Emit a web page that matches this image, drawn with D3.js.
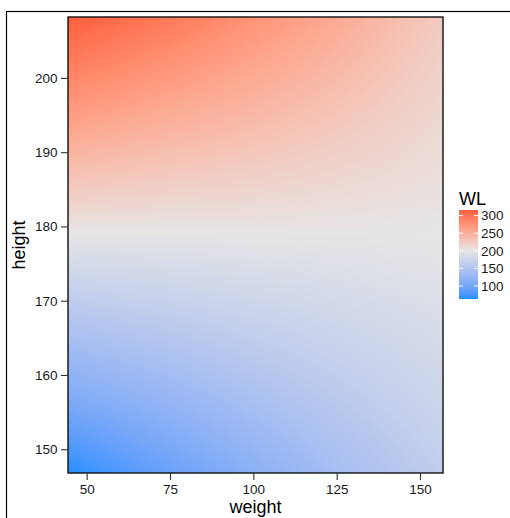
<!DOCTYPE html>
<html><head><meta charset="utf-8">
<script src="https://cdn.jsdelivr.net/npm/d3@7"></script>
<style>body{margin:0;background:#fff}svg{display:block}</style>
</head><body>
<svg id="c" width="510" height="518"></svg>
<script>
// grid of WL values
const weights = [45, 75, 100, 125, 155];
const heights = [147, 157, 167, 177, 187, 197, 208];
// WL[i][j]: i = weight index, j = height index
const WL = [
  [64, 109, 150, 192, 233, 275, 316],
  [94, 127, 160, 193, 226, 259, 296],
  [117, 143, 169, 195, 221, 247, 275],
  [139, 158, 177, 196, 215, 234, 255],
  [163, 175, 187, 198, 207, 216, 226]
];
const xTicks = [50, 75, 100, 125, 150];
const yTicks = [150, 160, 170, 180, 190, 200];
const legendTicks = [100, 150, 200, 250, 300];

const svg = d3.select("#c");
const P = {l: 68, r: 443, t: 17, b: 473};
const x = d3.scaleLinear().domain([44.4, 156.9]).range([P.l, P.r]);
const y = d3.scaleLinear().domain([146.8, 208.2]).range([P.b, P.t]);
const col = d3.scaleLinear().domain([63, 200, 337]).range(["#1E90FF", "#E5E5E5", "#FF3A20"]).interpolate(d3.interpolateLab).clamp(true);

// outer border
svg.append("rect").attr("x", 6.5).attr("y", 11.5).attr("width", 700).attr("height", 700)
  .attr("fill", "none").attr("stroke", "#000").attr("stroke-width", 1.2);

// bilinear value lookup
function val(w, h) {
  let i = d3.bisectRight(weights, w) - 1; i = Math.max(0, Math.min(weights.length - 2, i));
  let j = d3.bisectRight(heights, h) - 1; j = Math.max(0, Math.min(heights.length - 2, j));
  const tx = (w - weights[i]) / (weights[i + 1] - weights[i]);
  const ty = (h - heights[j]) / (heights[j + 1] - heights[j]);
  const a = WL[i][j], b = WL[i + 1][j], c = WL[i][j + 1], d = WL[i + 1][j + 1];
  return (a * (1 - tx) + b * tx) * (1 - ty) + (c * (1 - tx) + d * tx) * ty;
}
const W = P.r - P.l, H = P.b - P.t;
const cv = document.createElement("canvas"); cv.width = W; cv.height = H;
const ctx = cv.getContext("2d");
const img = ctx.createImageData(W, H);
for (let py = 0; py < H; py++) {
  const h = y.invert(P.t + py + 0.5);
  for (let px = 0; px < W; px++) {
    const w = x.invert(P.l + px + 0.5);
    const c = d3.rgb(col(val(w, h)));
    const k = (py * W + px) * 4;
    img.data[k] = c.r; img.data[k + 1] = c.g; img.data[k + 2] = c.b; img.data[k + 3] = 255;
  }
}
ctx.putImageData(img, 0, 0);
svg.append("image").attr("x", P.l).attr("y", P.t).attr("width", W).attr("height", H)
  .attr("preserveAspectRatio", "none").attr("href", cv.toDataURL());
svg.append("rect").attr("x", P.l).attr("y", P.t).attr("width", W).attr("height", H)
  .attr("fill", "none").attr("stroke", "#111").attr("stroke-width", 1.4);

const font = "Liberation Sans, Arial, sans-serif";
// x axis
const gx = svg.append("g").attr("transform", `translate(0,${P.b})`)
  .call(d3.axisBottom(x).tickValues(xTicks).tickSize(7).tickSizeOuter(0).tickPadding(4));
gx.select(".domain").remove();
gx.selectAll("line").attr("stroke", "#333").attr("stroke-width", 1.1);
gx.selectAll("text").attr("font-family", font).attr("font-size", 13.5).attr("fill", "#1a1a1a");
// y axis
const gy = svg.append("g").attr("transform", `translate(${P.l},0)`)
  .call(d3.axisLeft(y).tickValues(yTicks).tickSize(7).tickSizeOuter(0).tickPadding(3.5));
gy.select(".domain").remove();
gy.selectAll("line").attr("stroke", "#333").attr("stroke-width", 1.1);
gy.selectAll("text").attr("font-family", font).attr("font-size", 13.5).attr("fill", "#1a1a1a");

svg.append("text").attr("x", (P.l + P.r) / 2).attr("y", 513).attr("text-anchor", "middle")
  .attr("font-family", font).attr("font-size", 18).attr("fill", "#000").text("weight");
svg.append("text").attr("transform", `translate(25,${(P.t + P.b) / 2}) rotate(-90)`).attr("text-anchor", "middle")
  .attr("font-family", font).attr("font-size", 18).attr("fill", "#000").text("height");

// legend
const L = {x: 459, w: 19, t: 210, b: 299};
const ly = d3.scaleLinear().domain([63, 316]).range([L.b, L.t]);
const defs = svg.append("defs");
const grad = defs.append("linearGradient").attr("id", "lg").attr("x1", 0).attr("y1", 1).attr("x2", 0).attr("y2", 0);
d3.range(0, 1.0001, 0.05).forEach(t => {
  const v = 63 + t * (316 - 63);
  grad.append("stop").attr("offset", t).attr("stop-color", col(v));
});
svg.append("rect").attr("x", L.x).attr("y", L.t).attr("width", L.w).attr("height", L.b - L.t).attr("fill", "url(#lg)");
legendTicks.forEach(v => {
  const yy = ly(v);
  svg.append("line").attr("x1", L.x).attr("x2", L.x + 4).attr("y1", yy).attr("y2", yy).attr("stroke", "#fff").attr("stroke-width", 1);
  svg.append("line").attr("x1", L.x + L.w - 4).attr("x2", L.x + L.w).attr("y1", yy).attr("y2", yy).attr("stroke", "#fff").attr("stroke-width", 1);
  svg.append("text").attr("x", L.x + L.w + 3).attr("y", yy).attr("dy", "0.35em")
    .attr("font-family", font).attr("font-size", 13.5).attr("fill", "#1a1a1a").text(v);
});
svg.append("text").attr("x", L.x).attr("y", 205).attr("font-family", font).attr("font-size", 18).attr("fill", "#000").text("WL");
</script>
</body></html>
